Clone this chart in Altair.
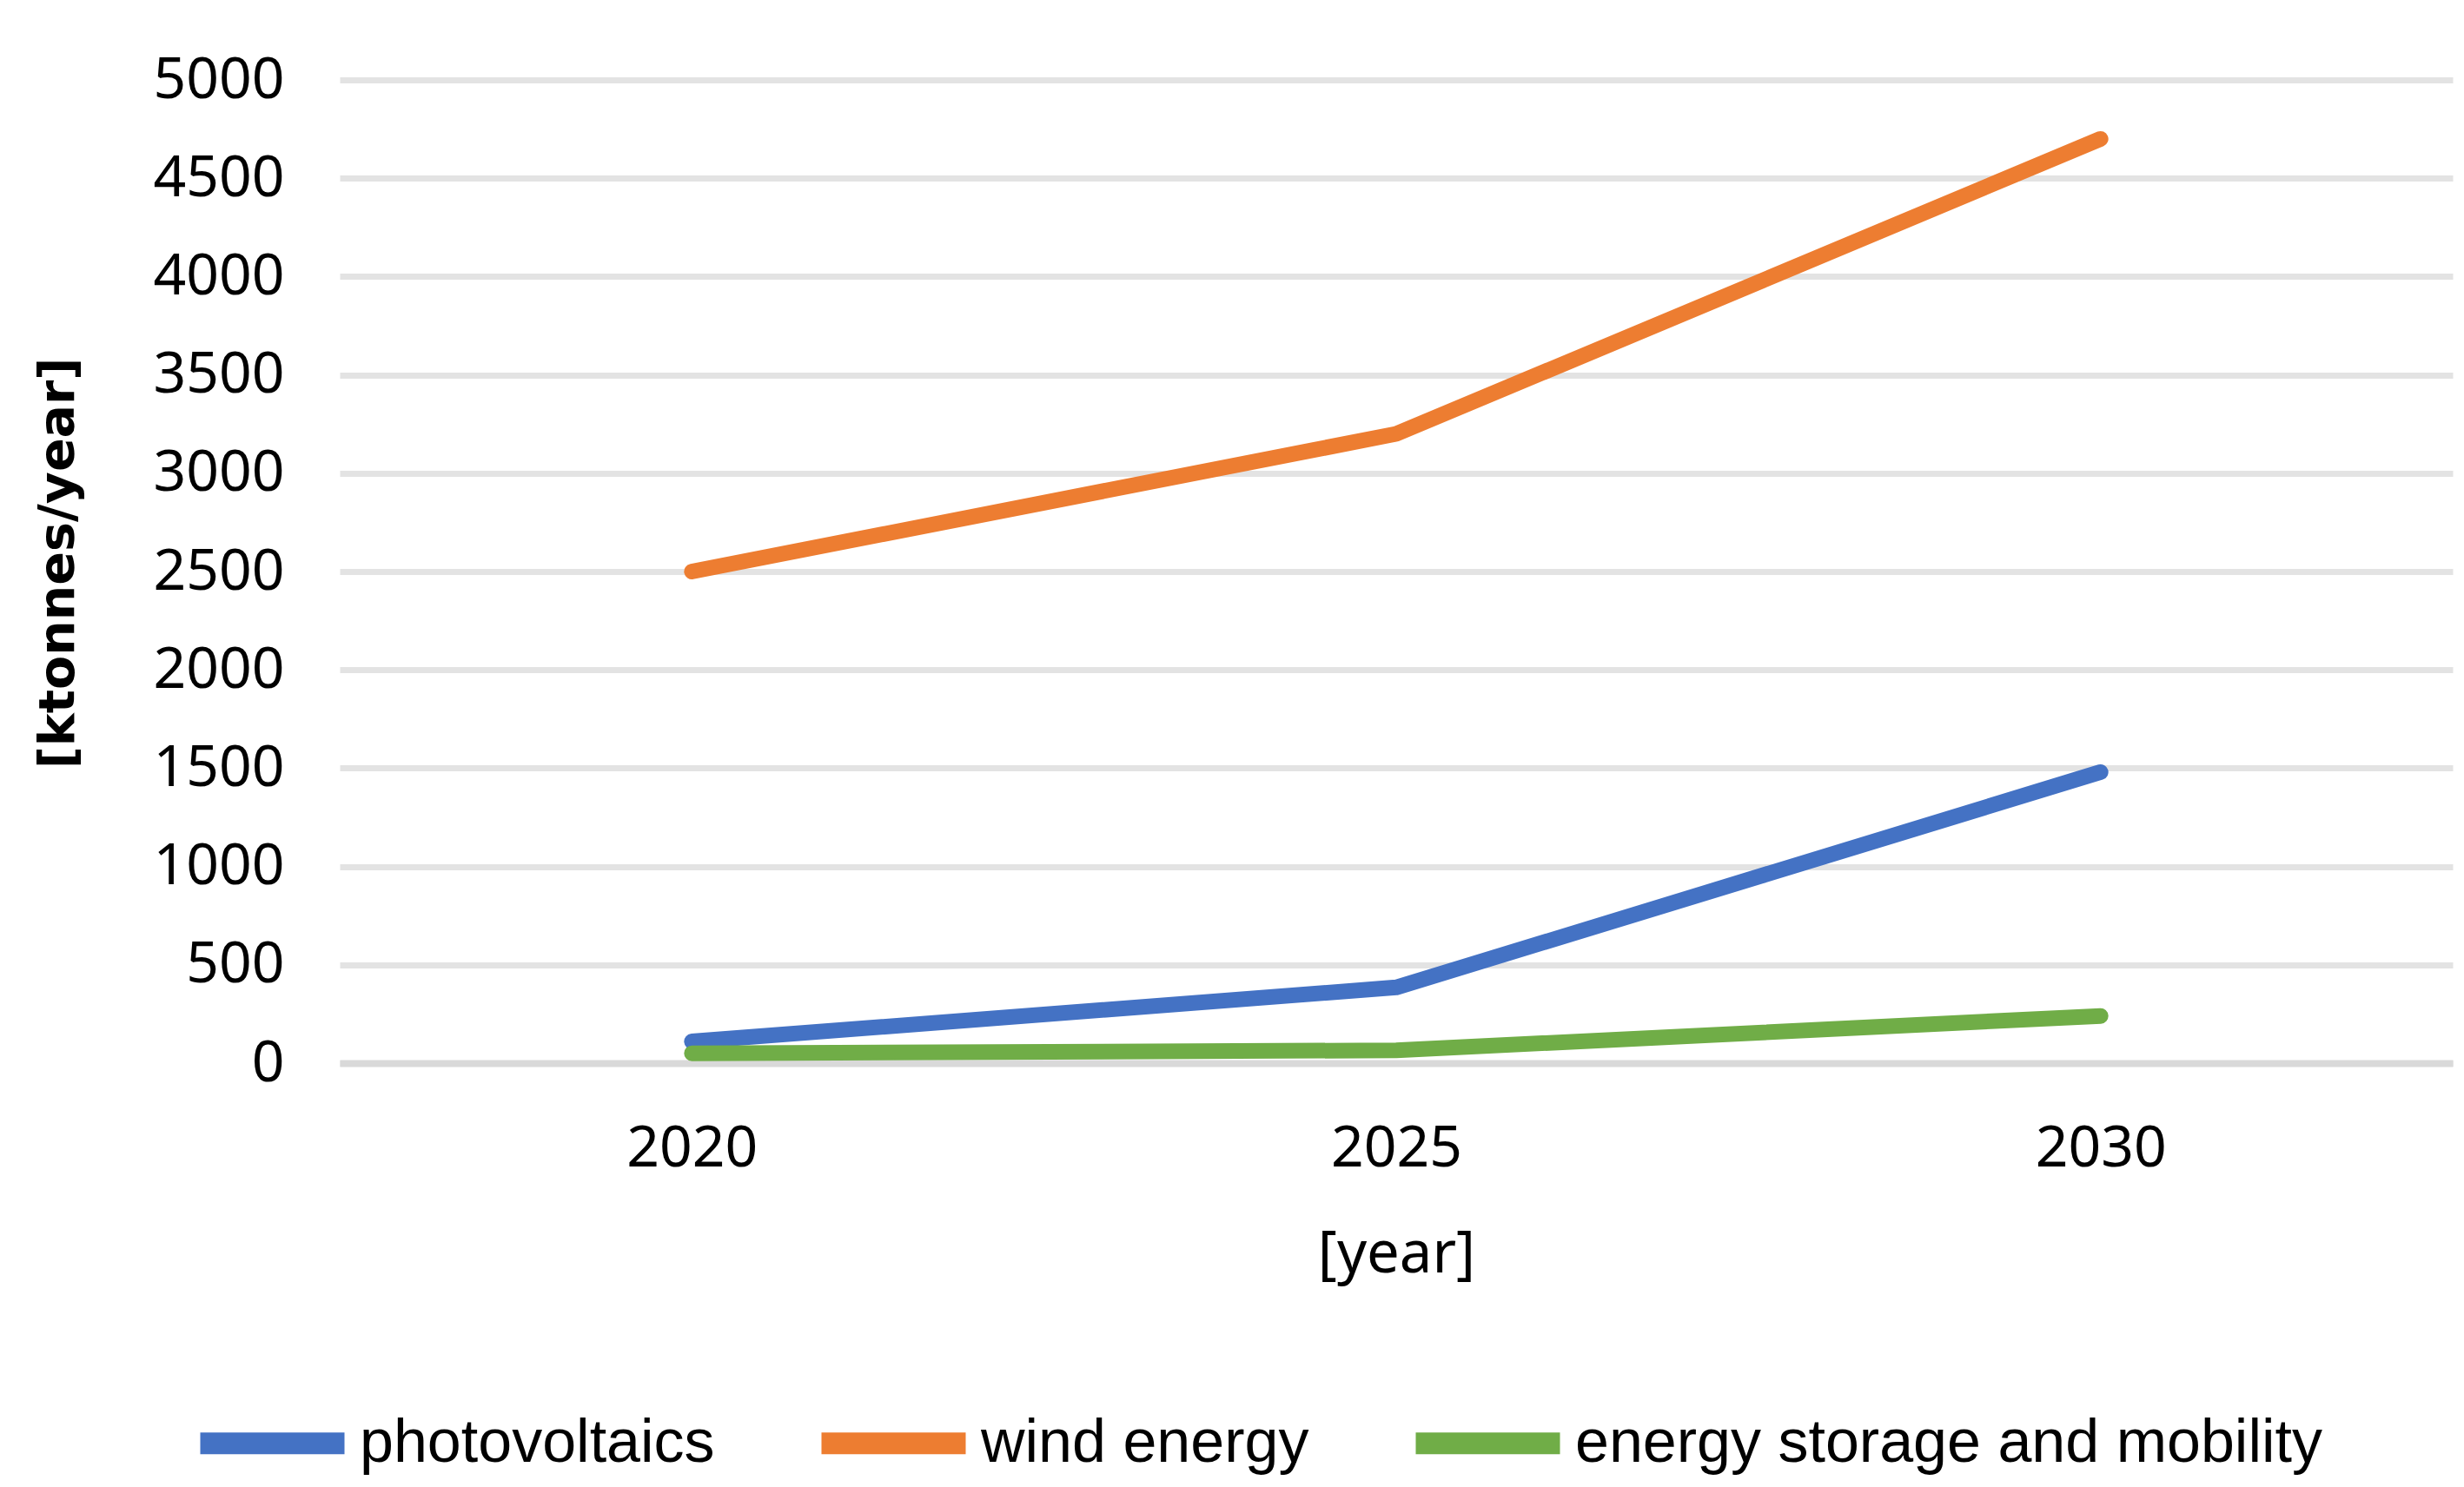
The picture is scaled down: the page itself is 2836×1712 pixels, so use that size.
import altair as alt
import pandas as pd

years = ["2020", "2025", "2030"]
series = ["photovoltaics", "wind energy", "energy storage and mobility"]
pv = [110, 385, 1480]
wind = [2500, 3200, 4700]
storage = [50, 65, 240]
colors = ["#4472C4", "#ED7D31", "#70AD47"]
y_ticks = [0, 500, 1000, 1500, 2000, 2500, 3000, 3500, 4000, 4500, 5000]

rows = []
for s, vals in zip(series, [pv, wind, storage]):
    for yr, v in zip(years, vals):
        rows.append({"year": yr, "series": s, "value": v})
df = pd.DataFrame(rows)

tick_font = "Noto Sans"
legend_font = "Liberation Sans"

x_enc = alt.X(
    "year:O",
    scale=alt.Scale(type="point", padding=0.5),
    axis=alt.Axis(
        title="[year]",
        titleFont=tick_font,
        titleFontSize=67,
        titleFontWeight="normal",
        titleColor="#000000",
        titleBaseline="alphabetic",
        titleY=240,
        labelFont=tick_font,
        labelFontSize=66,
        labelColor="#000000",
        labelAngle=0,
        labelBaseline="alphabetic",
        labelPadding=118,
        ticks=False,
        tickSize=0,
        domain=True,
        domainColor="#d9d9d9",
        domainWidth=8,
        grid=False,
    ),
)
y_enc = alt.Y(
    "value:Q",
    scale=alt.Scale(domain=[0, 5000], nice=False),
    axis=alt.Axis(
        title="[ktonnes/year]",
        titleFont="DejaVu Sans",
        titleFontSize=57,
        titleFontWeight="bold",
        titleColor="#000000",
        titleAngle=270,
        titleBaseline="middle",
        titleAlign="center",
        titleX=-324,
        titleY=556,
        values=y_ticks,
        format="d",
        labelFont=tick_font,
        labelFontSize=66,
        labelColor="#000000",
        labelPadding=64,
        ticks=False,
        tickSize=0,
        domain=False,
        grid=True,
        gridColor="#e3e3e3",
        gridWidth=7,
    ),
)
color_enc = alt.Color(
    "series:N",
    scale=alt.Scale(domain=series, range=colors),
    legend=alt.Legend(
        title=None,
        orient="none",
        legendX=-173,
        legendY=1474,
        direction="horizontal",
        symbolType="stroke",
        symbolSize=166 * 166,
        symbolStrokeWidth=25,
        labelFont=legend_font,
        labelFontSize=70,
        labelColor="#000000",
        labelOffset=5,
        labelLimit=3000,
        columnPadding=72,
        padding=0,
    ),
)

base = alt.Chart(df).mark_line(strokeWidth=18, strokeCap="round", strokeJoin="round").encode(
    x=x_enc, y=y_enc, color=color_enc
)

chart = alt.layer(
    *[base.transform_filter(alt.datum.series == s) for s in series]
).properties(
    width=2432,
    height=1132,
    autosize=alt.AutoSizeParams(type="none"),
    padding={"left": 383, "top": 84, "right": 5, "bottom": 480},
    background="white",
).configure_view(stroke=None)

chart.save("out.html", embed_options={"renderer": "svg", "actions": False})
